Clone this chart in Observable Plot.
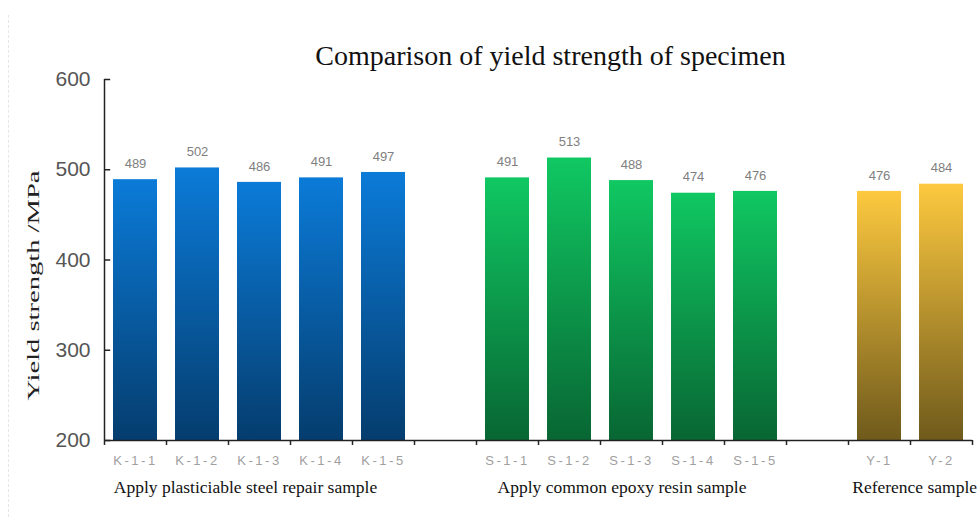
<!DOCTYPE html>
<html>
<head>
<meta charset="utf-8">
<script src="https://cdn.jsdelivr.net/npm/d3@7"></script>
<script src="https://cdn.jsdelivr.net/npm/@observablehq/plot@0.6"></script>
<style>
  html, body { margin: 0; padding: 0; background: #fff; }
  #chart { width: 977px; height: 517px; position: relative; }
  #chart::before { content: ""; position: absolute; left: 8px; top: 15px; bottom: 0; border-left: 1px dashed #e6e6e6; }
</style>
</head>
<body>
<div id="chart"></div>
<script>
// ---- data ----
const title = "Comparison of yield strength of specimen";
const yTitle = "Yield strength /MPa";
const groupNames = ["Apply plasticiable steel repair sample", "Apply common epoxy resin sample", "Reference sample"];
const kSamples = ["K-1-1", "K-1-2", "K-1-3", "K-1-4", "K-1-5"];
const kValues = [489, 502, 486, 491, 497];
const sSamples = ["S-1-1", "S-1-2", "S-1-3", "S-1-4", "S-1-5"];
const sValues = [491, 513, 488, 474, 476];
const ySamples = ["Y-1", "Y-2"];
const yValues = [476, 484];
const yTicks = [200, 300, 400, 500, 600];

// ---- layout: slots (one empty slot between groups) ----
const groups = [
  {name: groupNames[0], samples: kSamples, values: kValues, grad: "gBlue"},
  {name: groupNames[1], samples: sSamples, values: sValues, grad: "gGreen"},
  {name: groupNames[2], samples: ySamples, values: yValues, grad: "gYellow"}
];
const bars = [];
const groupLabels = [];
const labelOffsets = [0.15, 0.34, 0.06];
let slot = 0;
groups.forEach((g, gi) => {
  groupLabels.push({name: g.name, x: slot + labelOffsets[gi]});
  g.samples.forEach((s, i) => {
    bars.push({sample: s, value: g.values[i], x1: slot, x2: slot + 1, grad: g.grad});
    slot++;
  });
  if (gi < groups.length - 1) slot++;
});
const nSlots = slot;
const boundaries = d3.range(0, nSlots + 1);
const yMin = yTicks[0], yMax = yTicks[yTicks.length - 1];

const serif = "'Liberation Serif', 'DejaVu Serif', serif";
const sans = "'Liberation Sans', Arial, sans-serif";

const plot = Plot.plot({
  width: 977,
  height: 517,
  marginLeft: 104,
  marginRight: 5,
  marginTop: 79,
  marginBottom: 77,
  x: {type: "linear", domain: [0, nSlots], axis: null},
  y: {type: "linear", domain: [yMin, yMax], axis: null},
  style: {background: "transparent", overflow: "visible"},
  marks: [
    Plot.rectY(bars, {
      x1: "x1", x2: "x2", y1: () => yMin, y2: "value",
      insetLeft: 9, insetRight: 9,
      fill: d => `url(#${d.grad})`
    }),
    Plot.text(bars, {
      x: d => (d.x1 + d.x2) / 2, y: "value", text: d => String(d.value),
      dy: -16, fill: "#7f7f7f", fontSize: 13, fontFamily: sans
    }),
    // x axis
    Plot.ruleY([yMin], {x1: 0, x2: nSlots, stroke: "#222", strokeWidth: 1.5}),
    Plot.ruleX(boundaries, {x: d => d, y1: () => yMin - 5.5, y2: () => yMin, stroke: "#222", strokeWidth: 1.5}),
    Plot.text(bars, {
      x: d => (d.x1 + d.x2) / 2, y: () => yMin, text: "sample",
      dy: 20, fill: "#a0a0a0", fontSize: 13, fontFamily: sans
    }),
    // y axis
    Plot.ruleX([0], {y1: yMin, y2: yMax, stroke: "#222", strokeWidth: 1.5}),
    Plot.ruleY(yTicks, {y: d => d, x1: 0, x2: 0.1, stroke: "#222", strokeWidth: 1.5}),
    Plot.text(yTicks, {
      x: () => 0, y: d => d, text: d => String(d), dx: -14, textAnchor: "end",
      fill: "#555", fontSize: 21, fontFamily: sans
    }),
    // group labels
    Plot.text(groupLabels, {
      x: "x", y: () => yMin, text: "name", dy: 47, textAnchor: "start",
      fill: "#111", fontSize: 17.5, fontFamily: serif
    }),
    // titles
    Plot.text([title], {
      frameAnchor: "top", text: d => d, dy: -34, dx: 12,
      fill: "#111", fontSize: 28, fontFamily: serif
    }),
    Plot.text([yTitle], {
      frameAnchor: "left", textAnchor: "middle", text: d => d, rotate: -90, dx: -71, dy: 25.5,
      fill: "#222", fontSize: 17, fontFamily: serif
    })
  ]
});

// gradients
const svg = d3.select(plot);
const defs = svg.insert("defs", ":first-child");
const gradDefs = [
  ["gBlue", "#0b7bd8", "#053d6e"],
  ["gGreen", "#10c862", "#086633"],
  ["gYellow", "#fdc93f", "#6f5a1c"]
];
gradDefs.forEach(([id, top, bottom]) => {
  const lg = defs.append("linearGradient").attr("id", id).attr("x1", 0).attr("y1", 0).attr("x2", 0).attr("y2", 1);
  lg.append("stop").attr("offset", "0%").attr("stop-color", top);
  lg.append("stop").attr("offset", "100%").attr("stop-color", bottom);
});
svg.selectAll("text").filter(function() { return /^[KSY]-\d/.test(this.textContent); })
  .style("letter-spacing", "2.5px");
svg.selectAll("text").filter(function() { return this.textContent === yTitle; })
  .attr("textLength", 230).attr("lengthAdjust", "spacingAndGlyphs");

document.getElementById("chart").appendChild(plot);
</script>
</body>
</html>
